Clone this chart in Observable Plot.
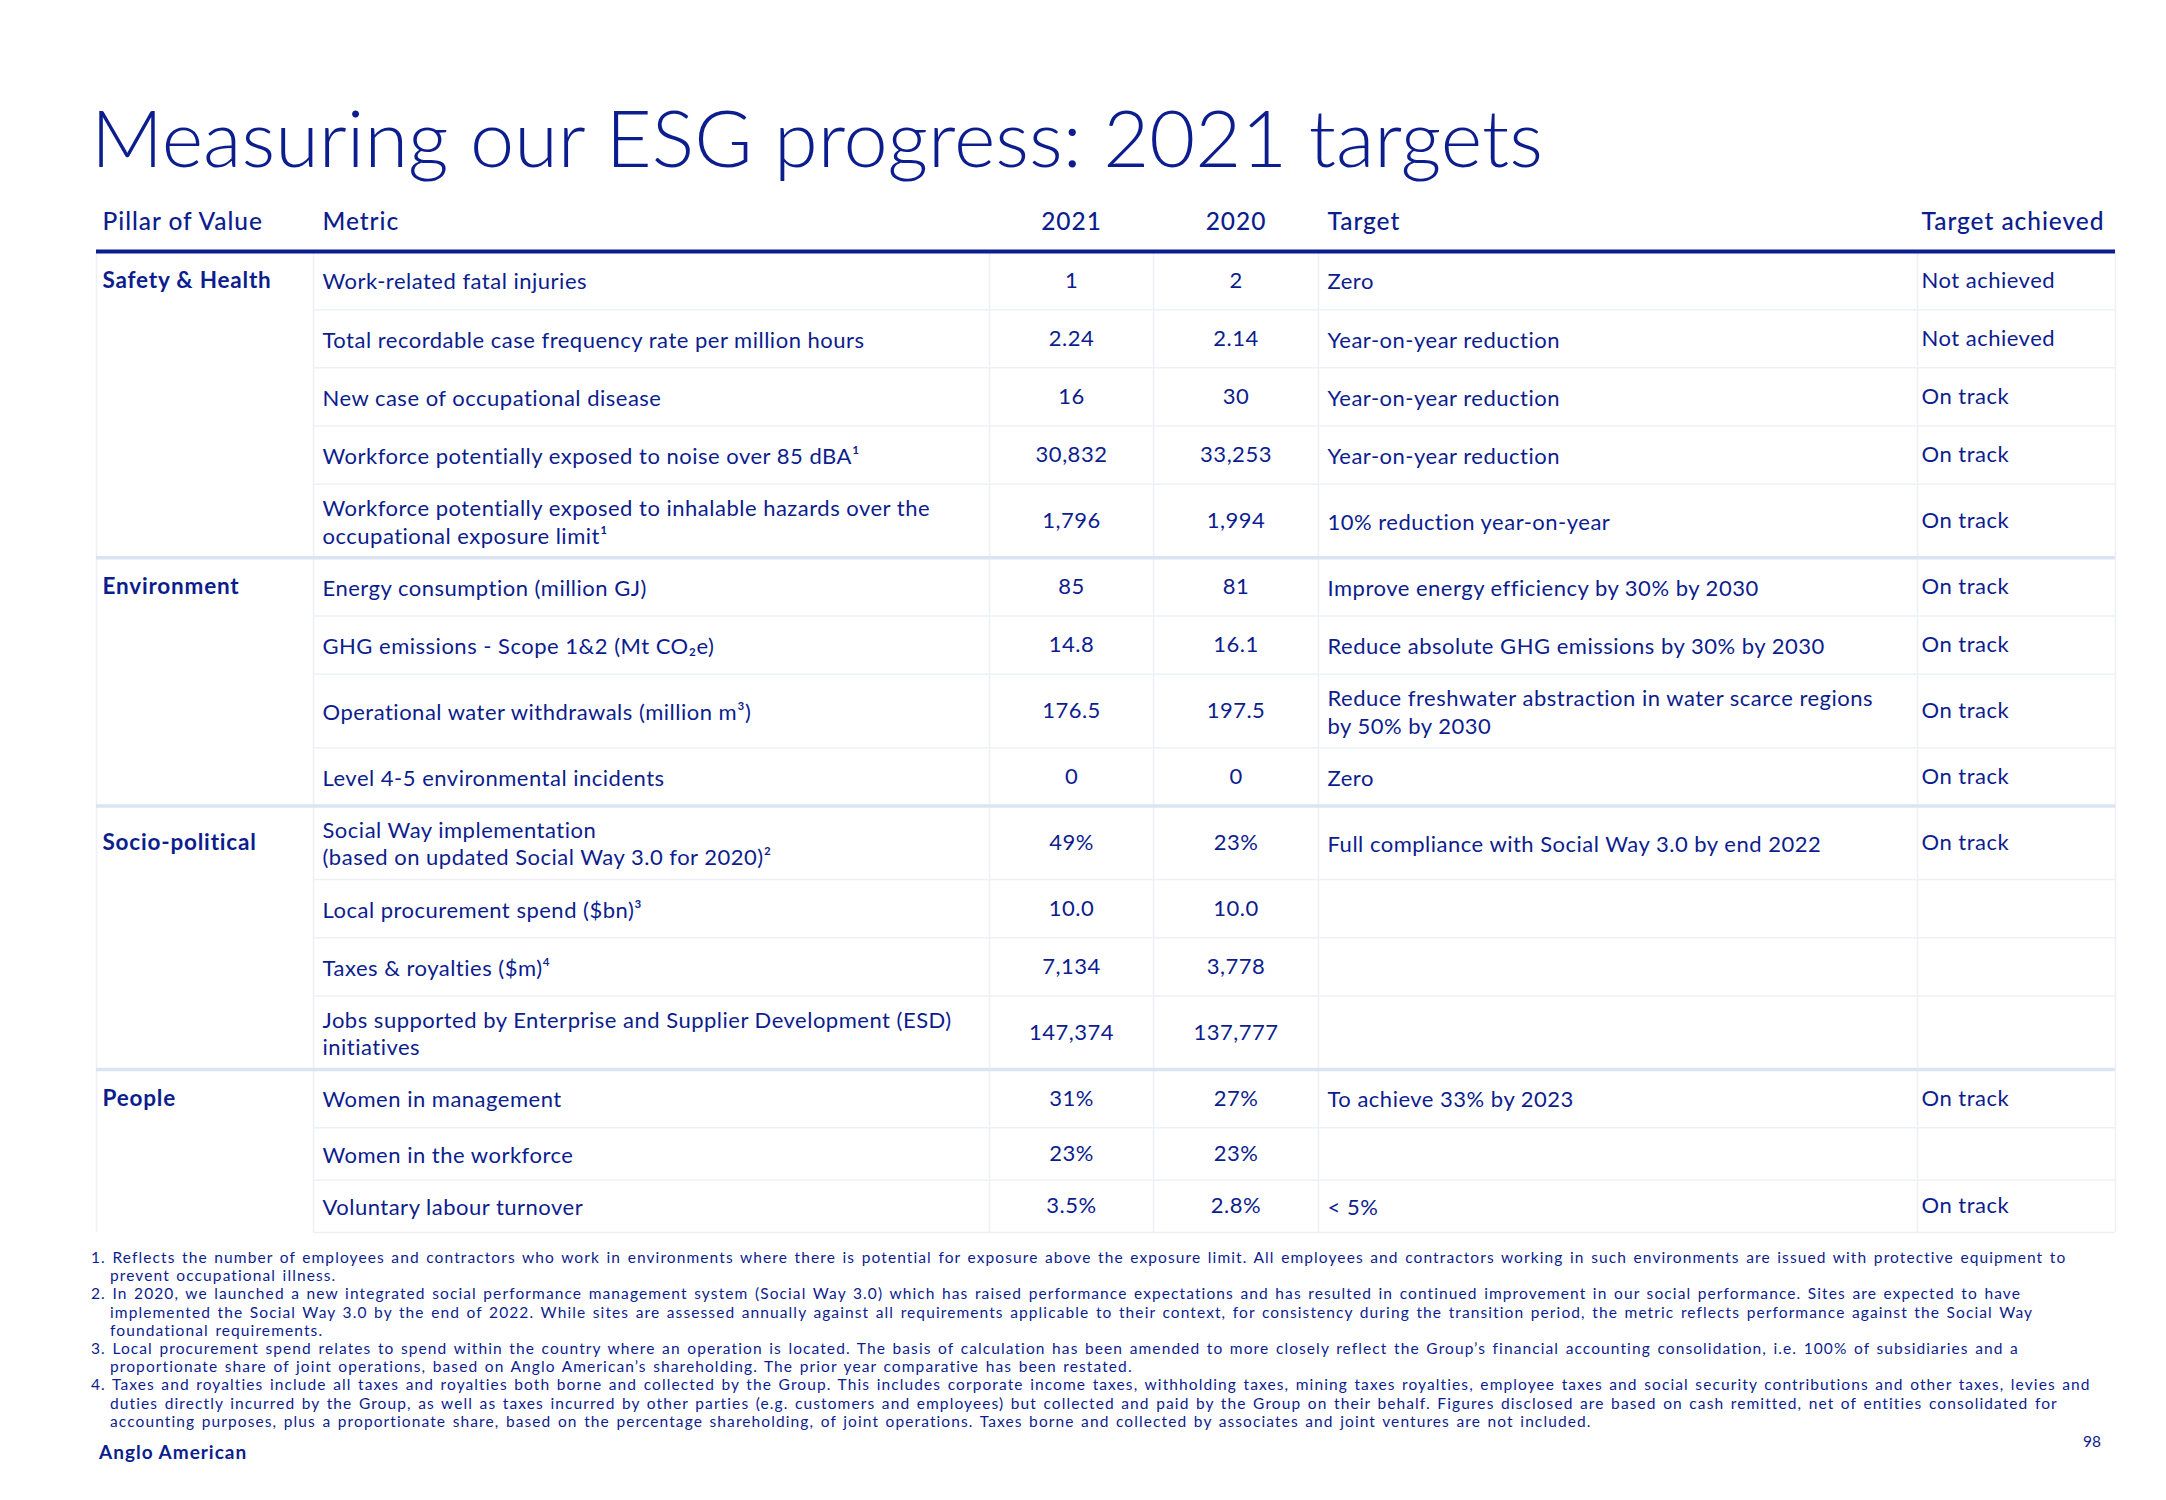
<!DOCTYPE html>
<html><head><meta charset="utf-8">
<script src="https://cdn.jsdelivr.net/npm/d3@7"></script>
<script src="https://cdn.jsdelivr.net/npm/@observablehq/plot@0.6"></script>
<style>
html,body{margin:0;padding:0;background:#fff;}
body{width:2166px;height:1500px;position:relative;overflow:hidden;font-family:Lato,"Open Sans",sans-serif;color:#0c1d8e;}
#title{position:absolute;left:91px;top:97px;font-size:79.3px;font-weight:300;line-height:80px;white-space:nowrap;}
#chart{position:absolute;left:0;top:185px;}
#notes{position:absolute;left:91px;top:1248px;font-size:15.5px;line-height:18.2px;letter-spacing:1.1px;word-spacing:1.5px;}
#notes .l{white-space:nowrap;height:18.2px;}
#notes .c{padding-left:19px;}
#brand{position:absolute;left:99px;top:1442px;font-weight:700;font-size:19px;line-height:19px;letter-spacing:1px;}
#page{position:absolute;left:2083px;top:1434px;font-size:15.5px;line-height:15.5px;}
</style></head>
<body>
<div id="title"></div>
<div id="chart"></div>
<div id="notes"></div>
<div id="brand"></div>
<div id="page"></div>
<script>
// ---------- data ----------
const titleText = "Measuring our ESG progress: 2021 targets";
const headers = ["Pillar of Value", "Metric", "2021", "2020", "Target", "Target achieved"];
const pillars = ["Safety & Health", "Environment", "Socio-political", "People"];
const pillarOfRow = [0,0,0,0,0, 1,1,1,1, 2,2,2,2, 3,3,3];
const metrics = [
  "Work-related fatal injuries",
  "Total recordable case frequency rate per million hours",
  "New case of occupational disease",
  "Workforce potentially exposed to noise over 85 dBA¹",
  "Workforce potentially exposed to inhalable hazards over the\noccupational exposure limit¹",
  "Energy consumption (million GJ)",
  "GHG emissions - Scope 1&2 (Mt CO₂e)",
  "Operational water withdrawals (million m³)",
  "Level 4-5 environmental incidents",
  "Social Way implementation\n(based on updated Social Way 3.0 for 2020)²",
  "Local procurement spend ($bn)³",
  "Taxes & royalties ($m)⁴",
  "Jobs supported by Enterprise and Supplier Development (ESD)\ninitiatives",
  "Women in management",
  "Women in the workforce",
  "Voluntary labour turnover"
];
const values2021 = ["1","2.24","16","30,832","1,796","85","14.8","176.5","0","49%","10.0","7,134","147,374","31%","23%","3.5%"];
const values2020 = ["2","2.14","30","33,253","1,994","81","16.1","197.5","0","23%","10.0","3,778","137,777","27%","23%","2.8%"];
const targets = [
  "Zero",
  "Year-on-year reduction",
  "Year-on-year reduction",
  "Year-on-year reduction",
  "10% reduction year-on-year",
  "Improve energy efficiency by 30% by 2030",
  "Reduce absolute GHG emissions by 30% by 2030",
  "Reduce freshwater abstraction in water scarce regions\nby 50% by 2030",
  "Zero",
  "Full compliance with Social Way 3.0 by end 2022",
  "", "", "",
  "To achieve 33% by 2023",
  "",
  "< 5%"
];
const achieved = ["Not achieved","Not achieved","On track","On track","On track","On track","On track","On track","On track","On track","","","","On track","","On track"];
const footnotes = [
  ["1. Reflects the number of employees and contractors who work in environments where there is potential for exposure above the exposure limit. All employees and contractors working in such environments are issued with protective equipment to",
   "prevent occupational illness."],
  ["2. In 2020, we launched a new integrated social performance management system (Social Way 3.0) which has raised performance expectations and has resulted in continued improvement in our social performance. Sites are expected to have",
   "implemented the Social Way 3.0 by the end of 2022. While sites are assessed annually against all requirements applicable to their context, for consistency during the transition period, the metric reflects performance against the Social Way",
   "foundational requirements."],
  ["3. Local procurement spend relates to spend within the country where an operation is located. The basis of calculation has been amended to more closely reflect the Group’s financial accounting consolidation, i.e. 100% of subsidiaries and a",
   "proportionate share of joint operations, based on Anglo American’s  shareholding. The prior year comparative has been restated."],
  ["4. Taxes and royalties include all taxes and royalties both borne and collected by the Group. This includes corporate income taxes, withholding taxes, mining taxes royalties, employee taxes and social security contributions and other taxes, levies and",
   "duties directly incurred by the Group, as well as taxes incurred by other parties (e.g. customers and employees) but collected and paid by the Group on their behalf. Figures disclosed are based on cash remitted, net of entities consolidated for",
   "accounting purposes, plus a proportionate share, based on the percentage shareholding, of joint operations. Taxes borne and collected by associates and joint ventures are not included."]
];
const brand = "Anglo American";
const pageNumber = "98";

// ---------- layout / style ----------
const NAVY = "#0c1d8e";
const FAINT = "#edf0f7";
const SEP = "#dae4f3";
const W = 2166, H = 1052, tableBottom = 1047;
const colEdges = [96, 313, 989, 1153, 1318, 1917, 2115];
const pad = [6, 9, 0, 0, 9, 4];
const twoLineUnits = 1.265, compactUnits = 0.9, headerUnits = 1.134;
const compactGroup = 3; // last pillar group uses tighter rows

// ---------- derived rows ----------
let acc = 0;
const rows = metrics.map((m, i) => {
  const lines = Math.max(m.split("\n").length, targets[i].split("\n").length);
  const h = lines > 1 ? twoLineUnits : (pillarOfRow[i] === compactGroup && i > 0 && pillarOfRow[i - 1] === compactGroup ? compactUnits : 1);
  const r = {i, metric: m, v21: values2021[i], v20: values2020[i], target: targets[i], ach: achieved[i],
             pillar: pillarOfRow[i], y0: acc, y1: acc + h, yc: acc + h / 2};
  acc += h;
  return r;
});
const total = acc;
const groupStarts = rows.filter((r, i) => i === 0 || r.pillar !== rows[i - 1].pillar);
const groupBounds = groupStarts.slice(1).map(r => r.y0);
const innerBounds = rows.slice(1).filter((r, i) => r.pillar === rows[i].pillar).map(r => r.y0).concat([total]);
const colCenter = k => (colEdges[k] + colEdges[k + 1]) / 2;
const colLeft = k => colEdges[k] + pad[k];
const headerY = -0.5;
const headerRows = headers.map((h, k) => ({label: h, k}));

const chart = Plot.plot({
  width: W, height: H, margin: 0,
  x: {type: "identity"},
  y: {type: "linear", domain: [-headerUnits, total], range: [0, tableBottom], axis: null},
  style: {fontFamily: "Lato, 'Open Sans', sans-serif", background: "transparent", color: NAVY, letterSpacing: "0.5px"},
  marks: [
    Plot.ruleY(innerBounds, {y: d => d, x1: colEdges[1], x2: colEdges[6], stroke: FAINT, strokeWidth: 1.5}),
    Plot.ruleX(colEdges, {x: d => d, y1: 0, y2: total, stroke: FAINT, strokeWidth: 1.5}),
    Plot.ruleY(groupBounds, {y: d => d, x1: colEdges[0], x2: colEdges[6], stroke: SEP, strokeWidth: 3.5}),
    Plot.ruleY([0], {x1: colEdges[0], x2: colEdges[6], stroke: NAVY, strokeWidth: 4}),
    Plot.text(headerRows.filter(d => d.k === 2 || d.k === 3), {x: d => colCenter(d.k), y: headerY, text: "label", textAnchor: "middle", fontSize: 24.5, fontWeight: 500, fill: NAVY}),
    Plot.text(headerRows.filter(d => d.k !== 2 && d.k !== 3), {x: d => colLeft(d.k), y: headerY, text: "label", textAnchor: "start", fontSize: 24.5, fontWeight: 500, fill: NAVY}),
    Plot.text(groupStarts, {x: colLeft(0), y: "yc", text: d => pillars[d.pillar], textAnchor: "start", fontSize: 22.5, fontWeight: 700, fill: NAVY}),
    Plot.text(rows, {x: colLeft(1), y: "yc", text: "metric", textAnchor: "start", fontSize: 22, lineHeight: 1.25, fill: NAVY}),
    Plot.text(rows, {x: colCenter(2), y: "yc", text: "v21", textAnchor: "middle", fontSize: 22, fill: NAVY}),
    Plot.text(rows, {x: colCenter(3), y: "yc", text: "v20", textAnchor: "middle", fontSize: 22, fill: NAVY}),
    Plot.text(rows, {x: colLeft(4), y: "yc", text: "target", textAnchor: "start", fontSize: 22, lineHeight: 1.25, fill: NAVY}),
    Plot.text(rows, {x: colLeft(5), y: "yc", text: "ach", textAnchor: "start", fontSize: 22, fill: NAVY})
  ]
});
// wider tracking for header and pillar labels
const textGroups = chart.querySelectorAll('g[aria-label="text"]');
[0, 1].forEach(k => { if (textGroups[k]) textGroups[k].style.letterSpacing = "0.95px"; });
if (textGroups[2]) textGroups[2].style.letterSpacing = "0.8px";
document.getElementById("chart").appendChild(chart);

document.getElementById("title").textContent = titleText;
const notes = document.getElementById("notes");
footnotes.forEach(lines => {
  lines.forEach((t, j) => {
    const d = document.createElement("div");
    d.className = "l" + (j > 0 ? " c" : "");
    d.textContent = t;
    notes.appendChild(d);
  });
});
document.getElementById("brand").textContent = brand;
document.getElementById("page").textContent = pageNumber;
</script>
</body></html>
